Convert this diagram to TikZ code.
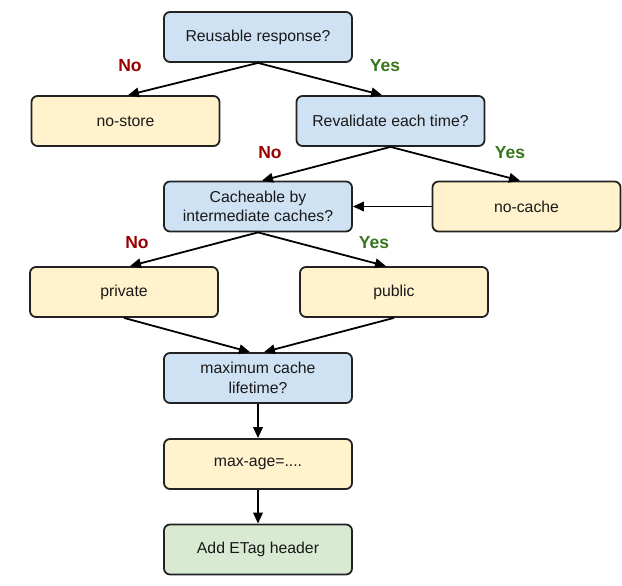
\documentclass[tikz,border=0pt]{standalone}
\usepackage{fontspec}
\setmainfont{Liberation Sans}
\usetikzlibrary{arrows.meta}
\definecolor{qblue}{HTML}{CFE2F3}
\definecolor{qyellow}{HTML}{FFF2CC}
\definecolor{qgreen}{HTML}{D9EAD3}
\definecolor{nored}{HTML}{990000}
\definecolor{yesgreen}{HTML}{38761D}
\definecolor{edge}{HTML}{222222}
\tikzset{
  box/.style={draw=edge, line width=1.8pt, rounded corners=6pt,
    minimum width=188pt, minimum height=50pt, inner sep=0pt, align=center,
    font=\fontsize{15.8}{19.5}\selectfont, text=black!90},
  question/.style={box, fill=qblue},
  answer/.style={box, fill=qyellow},
  final/.style={box, fill=qgreen},
  link/.style={draw=black, line width=1.8pt, -{Triangle[length=11pt,width=9.5pt]}},
  nolab/.style={text=nored, font=\fontsize{17.5}{20}\selectfont\bfseries},
  yeslab/.style={text=yesgreen, font=\fontsize{17.5}{20}\selectfont\bfseries}
}
\begin{document}
\begin{tikzpicture}[x=1pt, y=-1pt]
\useasboundingbox (0,0) rectangle (622,586);

% decision and outcome boxes
\node[question] (reuse)   at (258,37)    {Reusable response?};
\node[answer]   (nostore) at (125.5,121) {no-store};
\node[question] (reval)   at (390.5,121) {Revalidate each time?};
\node[question] (cacheable) at (258,206.5) {Cacheable by\\intermediate caches?};
\node[answer]   (nocache) at (526.5,206.5) {no-cache};
\node[answer]   (private) at (124,292)   {private};
\node[answer]   (public)  at (394,292)   {public};
\node[question] (maxlife) at (258,378)   {maximum cache\\lifetime?};
\node[answer]   (maxage)  at (258,464)   {max-age=....};
\node[final]    (etag)    at (258,549.5) {Add ETag header};

% branch labels
\node[nolab]  (no1)  at (130,66)  {No};
\node[yeslab] (yes1) at (385,66)  {Yes};
\node[nolab]  (no2)  at (270,153) {No};
\node[yeslab] (yes2) at (510,153) {Yes};
\node[nolab]  (no3)  at (137,243) {No};
\node[yeslab] (yes3) at (374,243) {Yes};

% connectors
\draw[link] (reuse.south) -- ([xshift=2.5pt]nostore.north);
\draw[link] (reuse.south) -- ([xshift=-8.5pt]reval.north);
\draw[link] (reval.south) -- ([xshift=4pt]cacheable.north);
\draw[link] (reval.south) -- ([xshift=-6.5pt]nocache.north);
\draw[link] (nocache.west) -- (cacheable.east);
\draw[link] (cacheable.south) -- ([xshift=6pt]private.north);
\draw[link] (cacheable.south) -- ([xshift=-8pt]public.north);
\draw[link] (private.south) -- ([xshift=-8pt]maxlife.north);
\draw[link] (public.south) -- ([xshift=6pt]maxlife.north);
\draw[link] (maxlife.south) -- (maxage.north);
\draw[link] (maxage.south) -- (etag.north);
\end{tikzpicture}
\end{document}
